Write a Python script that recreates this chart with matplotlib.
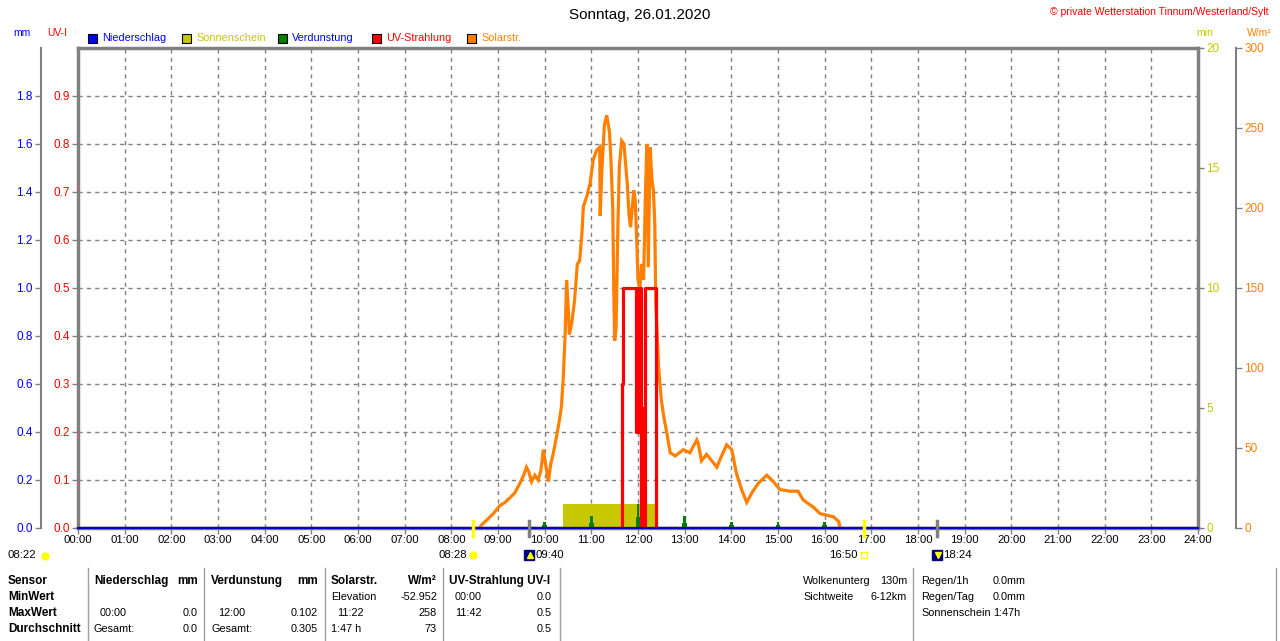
import matplotlib
matplotlib.use('Agg')
import matplotlib.pyplot as plt
from matplotlib.lines import Line2D
from matplotlib.patches import Rectangle
import matplotlib.transforms as mtransforms

W, H = 1280, 641
plt.rcParams['font.family'] = ['Liberation Sans', 'DejaVu Sans']

# Solarstrahlung W/m2 (Uhrzeit in Stunden)
solar_h = [8.60, 8.65, 8.76, 8.90, 9.04, 9.15, 9.26, 9.36, 9.47, 9.55,
           9.61, 9.66, 9.72, 9.79, 9.86, 9.92, 9.97, 10.02, 10.08, 10.13,
           10.18, 10.24, 10.29, 10.33, 10.36, 10.40, 10.44, 10.47, 10.50, 10.53,
           10.58, 10.64, 10.70, 10.75, 10.80, 10.83, 10.90, 10.97, 11.04, 11.11,
           11.18, 11.19, 11.22, 11.28, 11.33, 11.39, 11.42, 11.46, 11.48, 11.50,
           11.53, 11.57, 11.60, 11.65, 11.70, 11.77, 11.81, 11.84, 11.91, 11.94,
           11.98, 12.00, 12.04, 12.08, 12.12, 12.16, 12.19, 12.22, 12.26, 12.30,
           12.33, 12.36, 12.38, 12.44, 12.50, 12.55, 12.62, 12.69, 12.80, 12.97,
           13.11, 13.26, 13.29, 13.36, 13.47, 13.69, 13.79, 13.90, 14.01, 14.11,
           14.22, 14.33, 14.44, 14.58, 14.76, 14.90, 15.04, 15.26, 15.43, 15.54,
           15.76, 15.90, 16.19, 16.30, 16.33]
solar_w = [0, 2, 5, 9, 14, 16, 19, 22, 28, 33,
           38, 35, 29, 33, 30, 36, 49, 40, 29, 40,
           46, 55, 63, 70, 76, 95, 122, 155, 140, 121,
           128, 142, 165, 167, 185, 201, 207, 215, 230, 236,
           238, 195, 220, 252, 258, 247, 230, 199, 150, 117,
           125, 190, 226, 242, 240, 215, 195, 188, 211, 205,
           174, 155, 150, 165, 155, 210, 240, 163, 238, 217,
           211, 190, 142, 101, 80, 70, 59, 47, 45, 49,
           47, 55, 53, 42, 46, 38, 45, 52, 49, 34,
           24, 16, 22, 28, 33, 29, 24, 23, 23, 17.5,
           13, 9, 7, 4, 0]

# UV-Index (Stufen)
uv_h = [0, 11.65, 11.68, 11.96, 11.98, 12.00, 12.02, 12.055, 12.07, 12.09,
        12.11, 12.13, 12.15, 12.375, 24]
uv_i = [0, 0.3, 0.5, 0.2, 0.5, 0.2, 0.5, 0.0, 0.2, 0.0,
        0.25, 0.0, 0.5, 0.0, 0.0]

# Sonnenschein (min)
sun_h = [10.40, 12.37]
sun_min = [1.0, 1.0]

# Verdunstung (mm)
evap_h = [10, 11, 12, 13, 14, 15, 16]
evap_mm = [0.025, 0.05, 0.102, 0.05, 0.026, 0.026, 0.026]

# Niederschlag (mm)
rain_h = [0, 24]
rain_mm = [0.0, 0.0]

hours = list(range(25))
hour_labels = ['%02d:00' % h for h in hours]

# Sonne / Mond Auf- und Untergang
ev_h = [8 + 28 / 60, 9 + 40 / 60, 16 + 50 / 60, 18 + 24 / 60]
ev_lbl = ['08:28', '09:40', '16:50', '18:24']
ev_kind = ['sunrise', 'moonrise', 'sunset', 'moonset']

BLUE = '#0000ff'
RED = '#ff0000'
OLIVE = '#c8c800'
GREEN = '#008000'
ORANGE = '#ff8000'
GRAY = '#808080'
FS = 8.5


def fx(x):
    return x / W


def fy(y):
    return 1 - y / H


fig = plt.figure(figsize=(12.8, 6.41), dpi=100)
pos = [fx(78), fy(528), 1120 / W, 480 / H]
ax = fig.add_axes(pos)
ax.set_xlim(0, 24)
ax.set_ylim(0, 1.0)
ax.set_xticks(hours)
ax.set_xticklabels(hour_labels, fontsize=8.2)
ax.set_yticks([i / 10 for i in range(10)])
ax.set_yticklabels(['%.1f' % (i / 10) for i in range(10)], fontsize=FS, color=RED)
ax.tick_params(axis='both', length=4, color=GRAY, width=1, pad=2)
ax.tick_params(axis='x', pad=1)
ax.grid(True, linestyle=(0, (3, 3)), color=GRAY, linewidth=1)
for s in ax.spines.values():
    s.set_color(GRAY)
    s.set_linewidth(2.5)


def twin():
    t = ax.twinx()
    for s in t.spines.values():
        s.set_visible(False)
    t.set_xlim(0, 24)
    return t


# Sonnenschein
ax_min = twin()
ax_min.set_ylim(0, 20)
ax_min.set_yticks([0, 5, 10, 15, 20])
ax_min.set_yticklabels(['0', '5', '10', '15', '20'], fontsize=FS, color=OLIVE)
ax_min.tick_params(axis='y', length=4, color=GRAY, width=1, pad=2)
ax_min.fill_between(sun_h, 0, sun_min, color=OLIVE, linewidth=0)

# Verdunstung
ax_mm = twin()
ax_mm.set_ylim(0, 2.0)
ax_mm.yaxis.set_ticks_position('left')
ax_mm.spines['left'].set_visible(True)
ax_mm.spines['left'].set_position(('axes', -37 / 1120))
ax_mm.spines['left'].set_color(GRAY)
ax_mm.spines['left'].set_linewidth(1.5)
ax_mm.set_yticks([i / 5 for i in range(10)])
ax_mm.set_yticklabels(['%.1f' % (i / 5) for i in range(10)], fontsize=FS, color=BLUE)
ax_mm.tick_params(axis='y', length=4, color=GRAY, width=1, pad=2)
ax_mm.bar(evap_h, [v * 0.45 for v in evap_mm], width=0.1, color=GREEN, linewidth=0)
ax_mm.bar(evap_h, evap_mm, width=0.06, color=GREEN, linewidth=0)

# Solarstrahlung
ax_w = twin()
ax_w.set_ylim(0, 300)
ax_w.spines['right'].set_visible(True)
ax_w.spines['right'].set_position(('axes', 1 + 38 / 1120))
ax_w.spines['right'].set_color(GRAY)
ax_w.spines['right'].set_linewidth(1.5)
ax_w.set_yticks([0, 50, 100, 150, 200, 250, 300])
ax_w.set_yticklabels(['0', '50', '100', '150', '200', '250', '300'], fontsize=FS, color=ORANGE)
ax_w.tick_params(axis='y', length=4, color=GRAY, width=1, pad=2)
ax_w.plot(solar_h, solar_w, color=ORANGE, linewidth=2.3, solid_joinstyle='miter')

# UV
ax_uv = twin()
ax_uv.set_ylim(0, 1.0)
ax_uv.set_yticks([])
ax_uv.plot(uv_h, uv_i, color=RED, linewidth=2.3, drawstyle='steps-post')

# Niederschlag
ax_rain = twin()
ax_rain.set_ylim(0, 2.0)
ax_rain.set_yticks([])
ax_rain.plot(rain_h, rain_mm, color='#0000c0', linewidth=1.6, clip_on=False)

# Ereignisse unter der Zeitachse
trans = mtransforms.blended_transform_factory(ax.transData, ax.transAxes)
for h, lbl, kind in zip(ev_h, ev_lbl, ev_kind):
    col = '#ffff00' if kind.startswith('sun') else GRAY
    ax_rain.plot([h, h], [7 / 480, -8 / 480], color=col, linewidth=2.5,
                 transform=trans, clip_on=False)
    yt = -27 / 480
    if kind == 'sunrise':
        ax_rain.text(h - 0.13, yt, lbl, transform=trans, ha='right', va='center', fontsize=8.2)
        ax_rain.plot([h], [yt], marker='o', ms=5, color='#ffff00', transform=trans, clip_on=False)
    elif kind == 'sunset':
        ax_rain.text(h - 0.13, yt, lbl, transform=trans, ha='right', va='center', fontsize=8.2)
        ax_rain.plot([h], [yt], marker='s', ms=4, mfc='none', mec='#ffff00', transform=trans, clip_on=False)
    else:
        ax_rain.text(h + 0.13, yt, lbl, transform=trans, ha='left', va='center', fontsize=8.2)
        ax_rain.plot([h], [yt], marker='s', ms=7, color='#000080', transform=trans, clip_on=False)
        ax_rain.plot([h + 0.02], [yt], marker='^' if kind == 'moonrise' else 'v', ms=4,
                     color='#ffff00', transform=trans, clip_on=False)

fig.text(fx(8), fy(555), '08:22', fontsize=8.2, va='center')
fig.add_artist(Line2D([fx(45)], [fy(556)], marker='o', ms=5, color='#ffff00'))

# Titel und Kopfzeile
fig.text(0.5, fy(15), 'Sonntag, 26.01.2020', ha='center', va='center', fontsize=11)
fig.text(fx(1269), fy(12), '\u00a9 private Wetterstation Tinnum/Westerland/Sylt',
         ha='right', va='center', fontsize=7.5, color=RED)
fig.text(fx(22), fy(33), 'mm', ha='center', va='center', fontsize=7.5, color=BLUE)
fig.text(fx(57), fy(33), 'UV-I', ha='center', va='center', fontsize=7.5, color=RED)
fig.text(fx(1205), fy(33), 'min', ha='center', va='center', fontsize=7.5, color=OLIVE)
fig.text(fx(1259), fy(33), 'W/m²', ha='center', va='center', fontsize=7.5, color=ORANGE)

legend = [('Niederschlag', BLUE, BLUE, 88), ('Sonnenschein', OLIVE, OLIVE, 182),
          ('Verdunstung', GREEN, BLUE, 278), ('UV-Strahlung', RED, RED, 372),
          ('Solarstr.', ORANGE, ORANGE, 467)]
for name, fc, tc, x0 in legend:
    fig.add_artist(Rectangle((fx(x0), fy(43)), 9 / W, 9 / H, facecolor=fc,
                             edgecolor='black', linewidth=0.8, transform=fig.transFigure))
    fig.text(fx(x0 + 14), fy(38), name, va='center', fontsize=7.8, color=tc)

# Tabelle
TS = 7.8
rows_y = [581, 597, 613, 629]
for lbl, y in zip(['Sensor', 'MinWert', 'MaxWert', 'Durchschnitt'], rows_y):
    fig.text(fx(8), fy(y), lbl, va='center', fontsize=8.5, fontweight='bold')
head = [(94, 'Niederschlag', 'left'), (198, 'mm', 'right'), (211, 'Verdunstung', 'left'),
        (318, 'mm', 'right'), (331, 'Solarstr.', 'left'), (437, 'W/m²', 'right'),
        (449, 'UV-Strahlung UV-I', 'left')]
for x, s, ha in head:
    fig.text(fx(x), fy(581), s, va='center', ha=ha, fontsize=8.5, fontweight='bold')
cells = [(331, 597, 'Elevation', 'left'), (437, 597, '-52.952', 'right'),
         (455, 597, '00:00', 'left'), (552, 597, '0.0', 'right'),
         (100, 613, '00:00', 'left'), (198, 613, '0.0', 'right'),
         (218, 613, '12:00', 'left'), (318, 613, '0.102', 'right'),
         (337, 613, '11:22', 'left'), (437, 613, '258', 'right'),
         (455, 613, '11:42', 'left'), (552, 613, '0.5', 'right'),
         (94, 629, 'Gesamt:', 'left'), (198, 629, '0.0', 'right'),
         (212, 629, 'Gesamt:', 'left'), (318, 629, '0.305', 'right'),
         (331, 629, '1:47 h', 'left'), (437, 629, '73', 'right'),
         (552, 629, '0.5', 'right'),
         (803, 581, 'Wolkenunterg', 'left'), (907, 581, '130m', 'right'),
         (803, 597, 'Sichtweite', 'left'), (907, 597, '6-12km', 'right'),
         (921, 581, 'Regen/1h', 'left'), (993, 581, '0.0mm', 'left'),
         (921, 597, 'Regen/Tag', 'left'), (993, 597, '0.0mm', 'left'),
         (921, 613, 'Sonnenschein', 'left'), (993, 613, '1:47h', 'left')]
for x, y, s, ha in cells:
    fig.text(fx(x), fy(y), s, va='center', ha=ha, fontsize=TS)
for x in [88, 204, 325, 443, 560, 913, 1276]:
    fig.add_artist(Line2D([fx(x), fx(x)], [fy(568), fy(641)], color='#a0a0a0', linewidth=1))

fig.savefig('out.png', dpi=100)
